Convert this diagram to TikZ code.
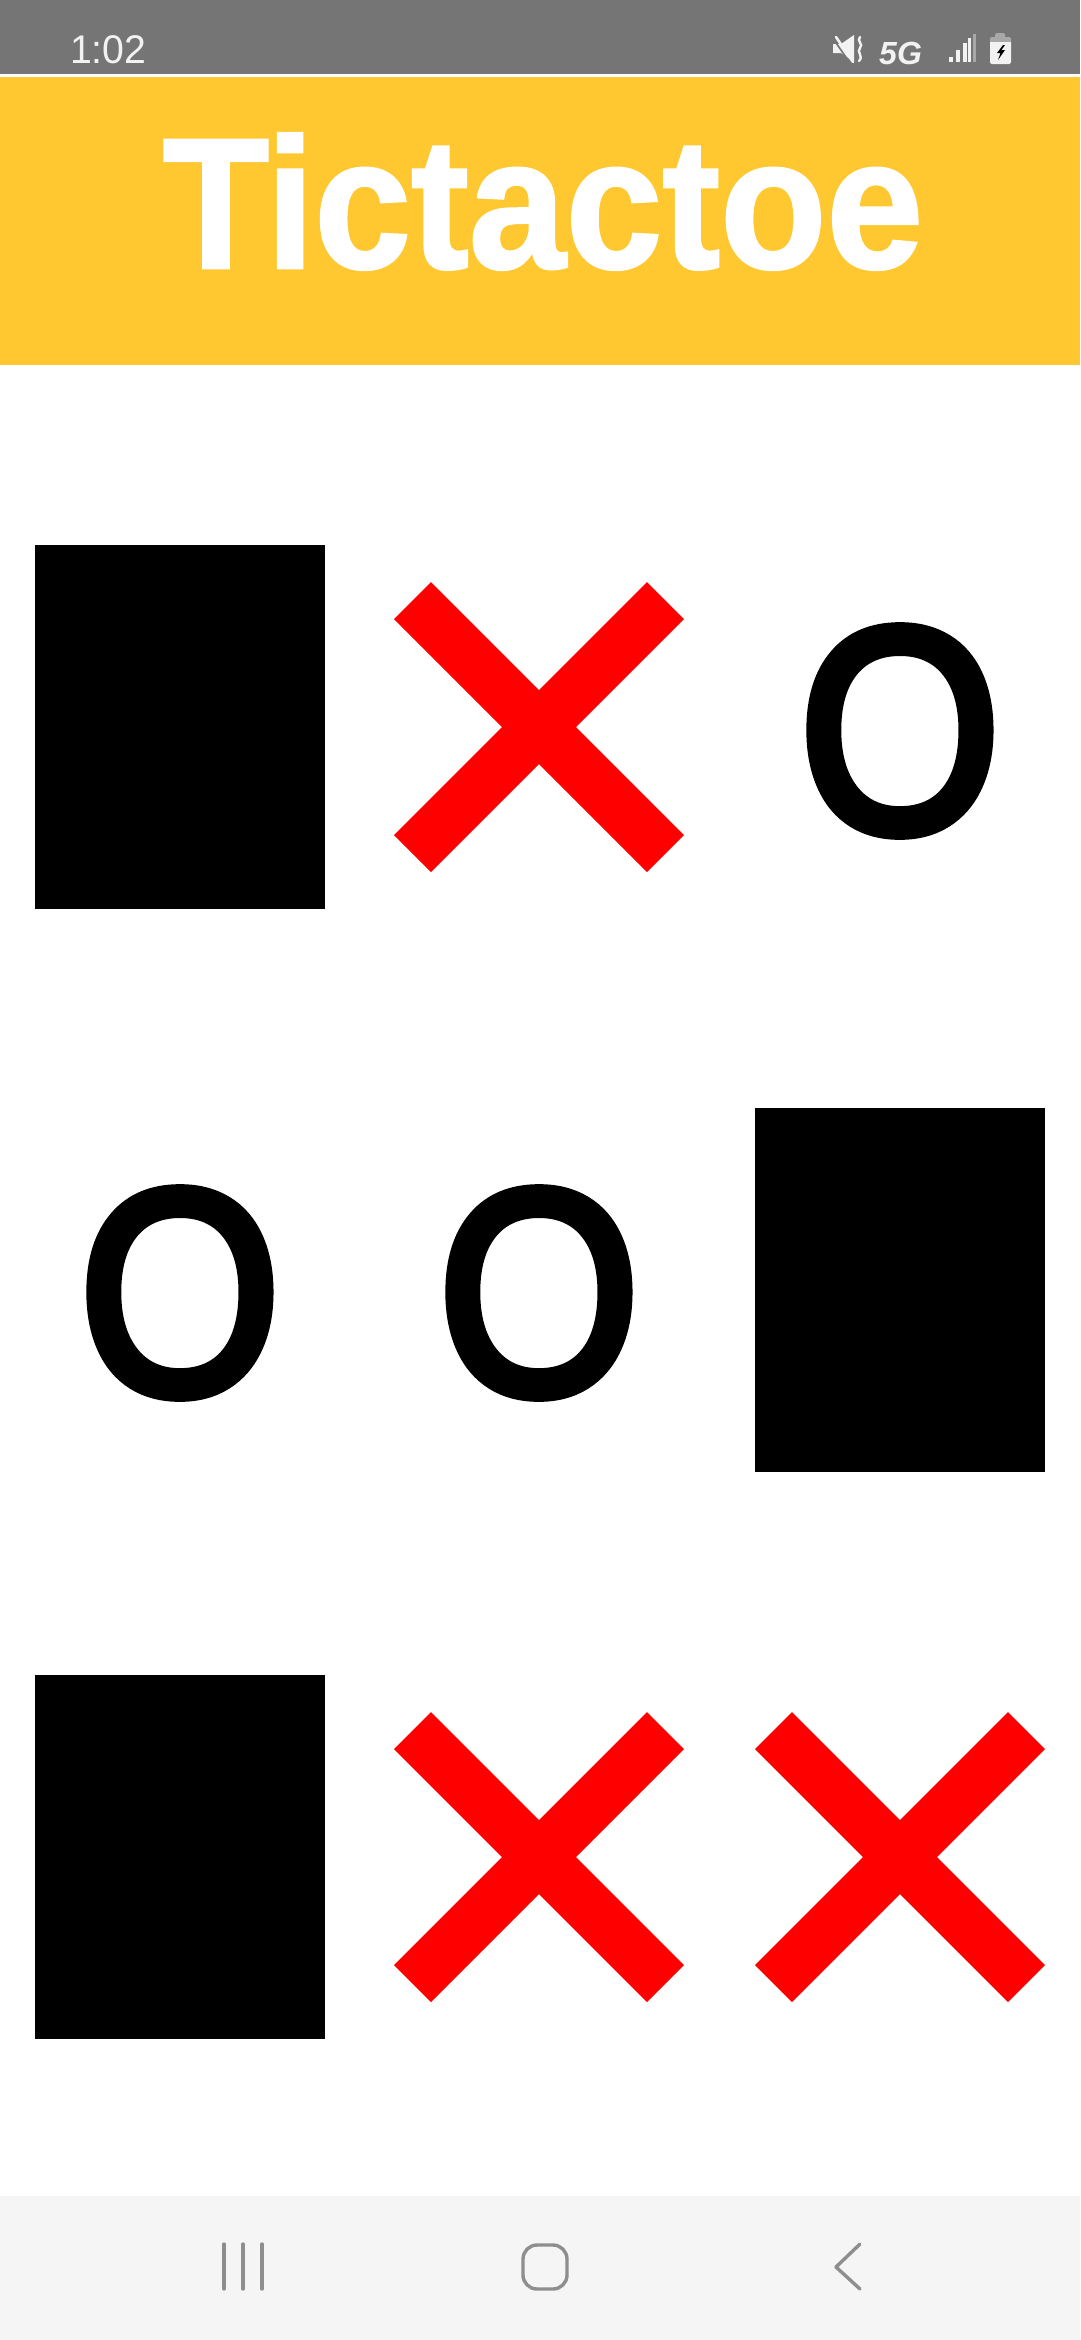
\documentclass[tikz,border=0pt]{standalone}
\usepackage{fontspec}
\setmainfont{Liberation Sans}
\newfontfamily\titlefont[FakeBold=1.5]{Liberation Sans Bold}
\newfontfamily\ofont[FakeBold=4]{Liberation Sans}
\definecolor{barGray}{HTML}{757575}
\definecolor{headYellow}{HTML}{FFC830}
\definecolor{navBg}{HTML}{F5F5F5}
\definecolor{navIcon}{HTML}{8E8E8E}
\definecolor{iconWhite}{HTML}{F2F2F2}
\definecolor{dimBar}{HTML}{A8A8A8}
\tikzset{
  blackcell/.style={fill=black,draw=none,inner sep=0pt,minimum width=290pt,minimum height=364pt},
  ocell/.style={inner sep=0pt,text=black,font=\ofont\fontsize{291}{300}\selectfont},
  redx/.style={fill=red,draw=none},
  navline/.style={draw=navIcon,line width=3.4pt,line cap=round,line join=round},
  sigbar/.style={fill=iconWhite,draw=none}
}
\newcommand{\drawx}[2]{%
  \fill[redx,shift={(#1,#2)}] (-108,-145) -- (0,-37) -- (108,-145) -- (145,-108) -- (37,0) -- (145,108) -- (108,145) -- (0,37) -- (-108,145) -- (-145,108) -- (-37,0) -- (-145,-108) -- cycle;}
\begin{document}
\begin{tikzpicture}[x=1pt,y=-1pt]
\useasboundingbox (0,0) rectangle (1080,2340);
\fill[white] (0,0) rectangle (1080,2340);
% status bar and header
\fill[barGray] (0,0) rectangle (1080,74);
\fill[headYellow] (0,77) rectangle (1080,365);
\fill[navBg] (0,2196) rectangle (1080,2340);
% time
\node[anchor=base west,inner sep=0pt,text=iconWhite,font=\fontsize{40}{42}\selectfont] (time) at (70,63) {\scalebox{0.98}[1]{1:02}};
% title
\node[anchor=base,inner sep=0pt,text=white,font=\titlefont\fontsize{186}{196}\selectfont] (title) at (543,268) {\scalebox{0.935}[1]{Tictactoe}};
% board
\node[blackcell] (c11) at (180,727) {};
\drawx{539}{727}
\node[ocell] (c13) at (900,731) {\scalebox{0.89}[1]{O}};
\node[ocell] (c21) at (180,1293) {\scalebox{0.89}[1]{O}};
\node[ocell] (c22) at (539,1293) {\scalebox{0.89}[1]{O}};
\node[blackcell] (c23) at (900,1290) {};
\node[blackcell] (c31) at (180,1857) {};
\drawx{539}{1857}
\drawx{900}{1857}
% status icons: mute
\fill[iconWhite] (833,44) -- (841,44) -- (854,35) -- (854,62) -- (841,53) -- (833,53) -- cycle;
\draw[barGray,line width=1.6pt] (834,40) -- (850,63);
\draw[iconWhite,line width=2.6pt,line cap=round] (836,37) -- (853,62);
\draw[iconWhite,line width=2.4pt,line cap=round] (860,37) .. controls (856,41) and (864,44) .. (860,48) .. controls (856,52) and (864,56) .. (859,61);
% 5G
\node[anchor=base west,inner sep=0pt,text=iconWhite,font=\bfseries\itshape\fontsize{32}{33}\selectfont] (fiveg) at (879,64) {5G};
% signal
\fill[sigbar] (949,57) rectangle (953,62);
\fill[sigbar] (956,50) rectangle (960,62);
\fill[sigbar] (963,43) rectangle (966.5,62);
\fill[sigbar] (968,38) rectangle (971,62);
\fill[dimBar] (973,34) rectangle (976,62);
% battery
\fill[dimBar,rounded corners=1.5pt] (995,33) rectangle (1005,40);
\fill[dimBar,rounded corners=2pt] (990,37) rectangle (1011,50);
\fill[iconWhite,rounded corners=2pt] (990,42) rectangle (1011,64);
\fill[iconWhite] (990,42) rectangle (1011,46);
\fill[black] (1003,45) -- (997,53) -- (1000.5,53) -- (998,60) -- (1005,50) -- (1001.5,50) -- (1005,45) -- cycle;
% navigation icons
\draw[navline] (224,2244) -- (224,2289);
\draw[navline] (243,2244) -- (243,2289);
\draw[navline] (262,2244) -- (262,2289);
\draw[navline,rounded corners=14pt] (523,2245) rectangle (567,2289);
\draw[navline] (860,2244) -- (836,2267) -- (860,2289);
\end{tikzpicture}
\end{document}
